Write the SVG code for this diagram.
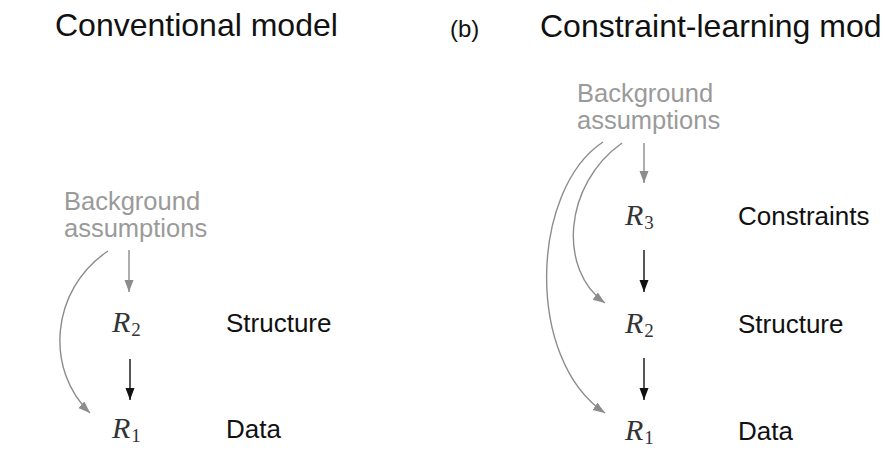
<svg xmlns="http://www.w3.org/2000/svg" width="885" height="473" viewBox="0 0 885 473">
<style>
.title{font-family:"Liberation Sans",Arial,sans-serif;font-size:32px;fill:#111}
.sub{font-family:"Liberation Sans",Arial,sans-serif;font-size:24px;fill:#111}
.bg{font-family:"Liberation Sans",Arial,sans-serif;font-size:25.5px;fill:#9a9a9a}
.lab{font-family:"Liberation Sans",Arial,sans-serif;font-size:26px;fill:#111}
.var{font-family:"Liberation Serif","Times New Roman",serif;font-size:30px;font-style:italic;fill:#333}
.var tspan.s{font-style:normal;font-size:19px}
.g{stroke:#8c8c8c;stroke-width:1.4;fill:none}
.k{stroke:#111;stroke-width:1.4;fill:none}
</style>
<defs>
<marker id="ag" markerUnits="userSpaceOnUse" markerWidth="13" markerHeight="10" refX="12" refY="4.5" orient="auto"><path d="M0,0 L12,4.5 L0,9 z" fill="#8c8c8c"/></marker>
<marker id="ak" markerUnits="userSpaceOnUse" markerWidth="13" markerHeight="10" refX="12" refY="4.5" orient="auto"><path d="M0,0 L12,4.5 L0,9 z" fill="#111"/></marker>
</defs>
<rect width="885" height="473" fill="#fff"/>
<g id="titles">
<text class="title" x="55" y="36">Conventional model</text>
<text class="sub" x="450" y="37">(b)</text>
<text class="title" x="540" y="37">Constraint-learning mod</text>
</g>
<g id="a-bg"><text class="bg" x="64" y="210">Background</text><text class="bg" x="64" y="237">assumptions</text></g>
<g id="a-r2"><text class="var" x="112" y="332">R<tspan class="s" dx="1" dy="4">2</tspan></text><text class="lab" x="226" y="332">Structure</text></g>
<g id="a-r1"><text class="var" x="112" y="438">R<tspan class="s" dx="1" dy="4">1</tspan></text><text class="lab" x="226" y="438">Data</text></g>
<g id="b-bg"><text class="bg" x="577" y="102">Background</text><text class="bg" x="577" y="129">assumptions</text></g>
<g id="b-r3"><text class="var" x="625" y="225">R<tspan class="s" dx="1" dy="4">3</tspan></text><text class="lab" x="738" y="225">Constraints</text></g>
<g id="b-r2"><text class="var" x="625" y="333">R<tspan class="s" dx="1" dy="4">2</tspan></text><text class="lab" x="738" y="333">Structure</text></g>
<g id="b-r1"><text class="var" x="625" y="440">R<tspan class="s" dx="1" dy="4">1</tspan></text><text class="lab" x="738" y="440">Data</text></g>
<g id="connectors">
<line class="g" x1="129" y1="250" x2="129" y2="292" marker-end="url(#ag)"/>
<path class="g" d="M108,251 C50,290 45,370 90,413" marker-end="url(#ag)"/>
<line class="k" x1="130" y1="359" x2="130" y2="400" marker-end="url(#ak)"/>
<line class="g" x1="644" y1="143" x2="644" y2="183" marker-end="url(#ag)"/>
<line class="k" x1="644" y1="250" x2="644" y2="292" marker-end="url(#ak)"/>
<line class="k" x1="644" y1="358" x2="644" y2="400" marker-end="url(#ak)"/>
<path class="g" d="M622,143 C563,185 558,270 605,303" marker-end="url(#ag)"/>
<path class="g" d="M603,142 C530,190 525,360 605,413" marker-end="url(#ag)"/>
</g>
</svg>
